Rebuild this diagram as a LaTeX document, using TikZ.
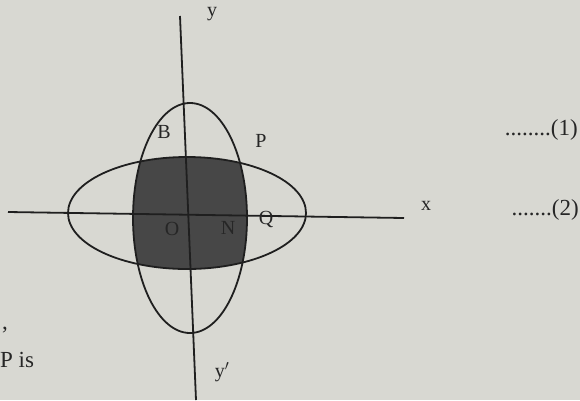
\documentclass[tikz,border=0pt]{standalone}
\usepackage{fontspec}
\setmainfont{Liberation Serif}
\begin{document}
\begin{tikzpicture}[x=1pt,y=-1pt,
  curve/.style={draw=black!88, line width=1.8pt},
  lbl/.style={font=\fontsize{20}{24}\selectfont, text=black!85, inner sep=0pt},
  big/.style={font=\fontsize{23}{27}\selectfont, text=black!85, inner sep=0pt}]
\useasboundingbox[fill={rgb,255:red,216;green,216;blue,210}] (0,0) rectangle (580,400);
% shaded intersection
\begin{scope}
  \clip (190,218) ellipse [x radius=57, y radius=115];
  \fill[black!72] (187,213) ellipse [x radius=119, y radius=56];
\end{scope}
% axes
\draw[curve] (180,16) -- (196,400);
\draw[curve] (8,212) -- (404,218);
% ellipses
\draw[curve] (190,218) ellipse [x radius=57, y radius=115];
\draw[curve] (187,213) ellipse [x radius=119, y radius=56];
% labels
\node[lbl] (ylab) at (212,14) {y};
\node[lbl] (yplab) at (222,372) {y$'$};
\node[lbl] (xlab) at (426,206) {x};
\node[lbl] (B) at (164,132) {B};
\node[lbl] (P) at (261,141) {P};
\node[lbl] (O) at (172,229) {O};
\node[lbl] (N) at (228,228) {N};
\node[lbl] (Q) at (266,219) {Q};
\node[big, anchor=east] (eq1) at (578,130) {........(1)};
\node[big, anchor=east] (eq2) at (579,210) {.......(2)};
\node[big, anchor=west] (comma) at (2,330) {,};
\node[big, anchor=west] (Pis) at (0,360) {P is};
\end{tikzpicture}
\end{document}
